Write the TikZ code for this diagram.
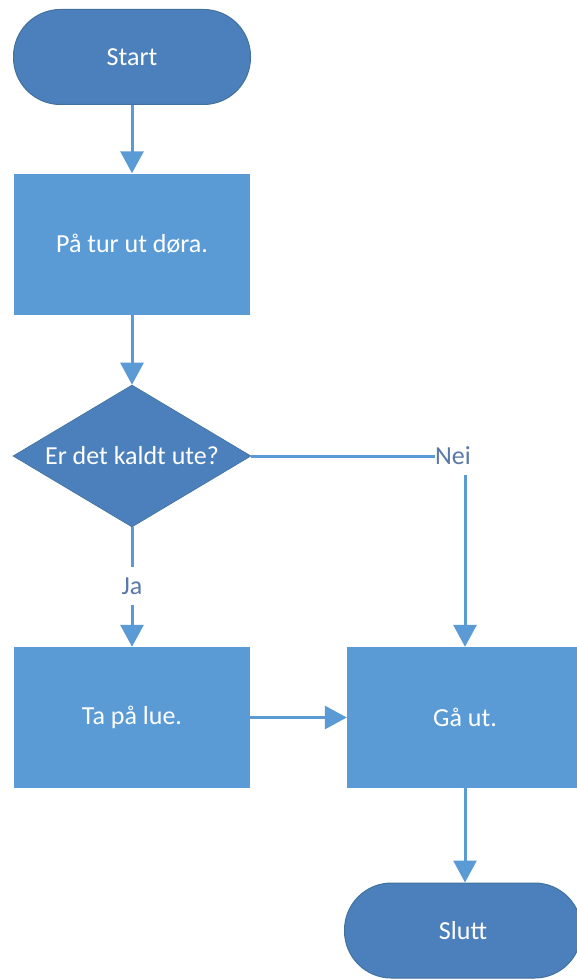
\documentclass[tikz,border=0pt]{standalone}
\usepackage{fontspec}
\setmainfont{Carlito}
\usetikzlibrary{arrows.meta,shapes.geometric}
\definecolor{boxblue}{HTML}{5B9BD5}
\definecolor{darkblue}{HTML}{4C80BC}
\definecolor{darkedge}{HTML}{41719C}
\definecolor{lineblue}{HTML}{5B9BD5}
\definecolor{labelcol}{HTML}{5A78A8}
\tikzset{
  terminal/.style={draw=darkedge,line width=1pt,fill=darkblue,rounded corners=47pt,minimum width=237pt,minimum height=95pt,inner sep=0pt,text=white,font=\fontsize{26}{30}\selectfont},
  process/.style={fill=boxblue,minimum width=236pt,minimum height=141pt,inner sep=0pt,text=white,font=\fontsize{26}{30}\selectfont},
  decision/.style={diamond,aspect=1.676,draw=darkedge,line width=0.6pt,fill=darkblue,minimum width=238pt,minimum height=142pt,inner sep=0pt,text=white,font=\fontsize{26}{30}\selectfont},
  lbl/.style={text=labelcol,font=\fontsize{26}{30}\selectfont,inner xsep=0pt,inner ysep=10pt},
  conn/.style={draw=lineblue,line width=3pt},
  arr/.style={conn,-{Triangle[width=23pt,length=22pt]}}
}
\begin{document}
\begin{tikzpicture}[x=1pt,y=-1pt]
\useasboundingbox (0,0) rectangle (577,979);
\clip (0,0) rectangle (577,979);
\fill[white] (0,0) rectangle (577,979);
\node[terminal] (start) at (132,57) {Start};
\node[process] (tur) at (132,244) {På tur ut døra.};
\node[decision] (kaldt) at (132,456) {Er det kaldt ute?};
\node[process] (lue) at (132,717.5) {Ta på lue.};
\node[process] (gaa) at (465,717.5) {Gå ut.};
\node[terminal] (slutt) at (463,930.5) {Slutt};
\node[lbl] (nei) at (453,456) {Nei};
\node[lbl] (ja) at (132,586) {Ja};
\draw[arr] (start) -- (tur);
\draw[arr] (tur) -- (kaldt);
\draw[conn] (kaldt.east) -- (nei.west);
\draw[arr] (nei.south -| gaa.north) -- (gaa.north);
\draw[conn] (kaldt.south) -- (ja.north);
\draw[arr] (ja.south) -- (lue.north);
\draw[arr] (lue.east) -- (gaa.west);
\draw[arr] (gaa.south) -- (gaa.south |- slutt.north);
\end{tikzpicture}
\end{document}
